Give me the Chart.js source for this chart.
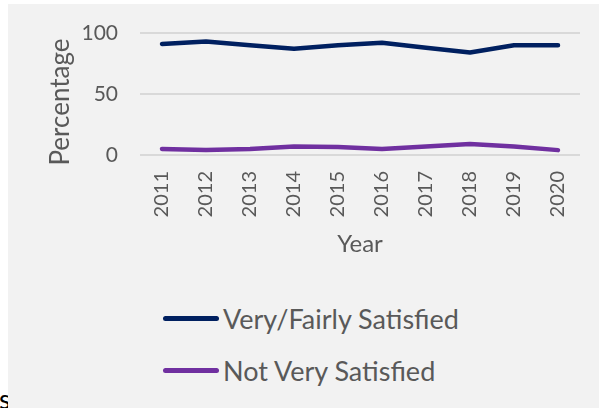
<!DOCTYPE html>
<html><head><meta charset="utf-8">
<script src="https://cdn.jsdelivr.net/npm/chart.js@4"></script>
<style>
html,body{margin:0;padding:0;background:#fff;width:599px;height:408px;overflow:hidden;position:relative;}
#cut{position:absolute;left:-1px;top:384px;font:27px Lato, sans-serif;color:#000;line-height:30px;}
#panel{position:absolute;left:8px;top:4px;width:591px;height:404px;background:#f2f2f2;}
#wrap{position:absolute;left:0;top:0;width:591px;height:270px;}
.item{position:absolute;left:155px;height:30px;display:flex;align-items:center;font:27px Lato, sans-serif;color:#595959;white-space:nowrap;}
.swatch{width:56px;height:5px;border-radius:3px;margin-right:4px;}
</style>
</head><body>
<div id="cut">s</div>
<div id="panel">
  <div id="wrap"><canvas id="c"></canvas></div>
  <div id="legend"></div>
</div>
<script>
const categories = ['2011','2012','2013','2014','2015','2016','2017','2018','2019','2020'];
const verySatisfied = [91, 93, 90, 87, 90, 92, 88, 84, 90, 90];
const notSatisfied = [5, 4, 5, 7, 6.5, 5, 7, 9, 7, 4];
const seriesNames = ['Very/Fairly Satisfied', 'Not Very Satisfied'];
const yTicks = [0, 50, 100];
const yTitle = 'Percentage';
const xTitle = 'Year';

const textColor = '#595959';

const yTitlePlugin = {
  id: 'yTitle',
  afterDraw(chart) {
    const {ctx, chartArea} = chart;
    ctx.save();
    ctx.fillStyle = textColor;
    ctx.font = '26px Lato';
    ctx.textAlign = 'center';
    ctx.textBaseline = 'middle';
    ctx.translate(53, (chartArea.top + chartArea.bottom) / 2 + 8);
    ctx.rotate(-Math.PI / 2);
    ctx.fillText(yTitle, 0, 0);
    ctx.restore();
  }
};

const chart = new Chart(document.getElementById('c'), {
  type: 'line',
  data: {
    labels: categories,
    datasets: [
      {label: seriesNames[0], data: verySatisfied, borderColor: '#002060', backgroundColor: '#002060'},
      {label: seriesNames[1], data: notSatisfied, borderColor: '#7030a0', backgroundColor: '#7030a0'}
    ]
  },
  plugins: [yTitlePlugin],
  options: {
    responsive: true,
    maintainAspectRatio: false,
    animation: false,
    layout: {padding: {left: 0, top: 29, right: 19, bottom: 0}},
    elements: {
      line: {borderWidth: 4.5, tension: 0, borderCapStyle: 'round', borderJoinStyle: 'round'},
      point: {radius: 0, hoverRadius: 0}
    },
    plugins: {legend: {display: false}, tooltip: {enabled: false}},
    scales: {
      x: {
        offset: true,
        grid: {display: false, drawTicks: false},
        border: {display: false},
        ticks: {minRotation: 90, maxRotation: 90, padding: 16, color: textColor, font: {family: 'Lato', size: 20}},
        title: {display: true, text: xTitle, color: textColor, font: {family: 'Lato', size: 24}, padding: {top: 0, bottom: 15}},
        afterFit: s => { s.height = 119; }
      },
      y: {
        min: 0, max: 100,
        afterBuildTicks: s => { s.ticks = yTicks.map(v => ({value: v})); },
        grid: {color: '#d9d9d9', lineWidth: 2, drawTicks: true, tickLength: 18, tickColor: 'rgba(0,0,0,0)'},
        border: {display: false},
        ticks: {padding: 4, color: textColor, font: {family: 'Lato', size: 21}},
        title: {display: false},
        afterFit: s => { s.width = 132; }
      }
    }
  }
});

const legend = document.getElementById('legend');
const tops = [299, 351];
chart.data.datasets.forEach((ds, i) => {
  const item = document.createElement('div');
  item.className = 'item';
  item.style.top = tops[i] + 'px';
  const sw = document.createElement('span');
  sw.className = 'swatch';
  sw.style.background = ds.borderColor;
  item.appendChild(sw);
  item.appendChild(document.createTextNode(ds.label));
  legend.appendChild(item);
});
</script>
</body></html>
